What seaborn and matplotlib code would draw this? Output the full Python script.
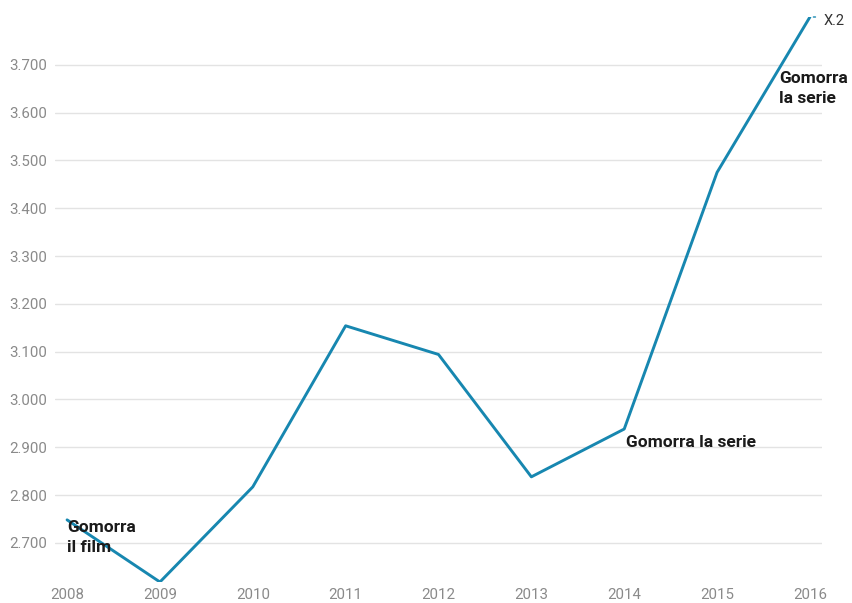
import matplotlib
matplotlib.use("Agg")
import matplotlib.pyplot as plt
import seaborn as sns
import pandas as pd
from matplotlib.ticker import FuncFormatter

years = [2008, 2009, 2010, 2011, 2012, 2013, 2014, 2015, 2016]
values = [2748, 2618, 2817, 3154, 3094, 2838, 2938, 3475, 3800]
series_name = "X.2"
y_ticks = [2700, 2800, 2900, 3000, 3100, 3200, 3300, 3400, 3500, 3600, 3700]

notes = [
    (2008, 2748, "Gomorra\nil film"),
    (2014, 2938, "Gomorra la serie"),
    (2016, 3800, "Gomorra\nla serie"),
]

df = pd.DataFrame({"anno": years, "valore": values})

sns.set_theme(style="white")
plt.rcParams["font.family"] = ["Roboto", "DejaVu Sans"]

fig = plt.figure(figsize=(8.52, 6.03), dpi=100)
ax = fig.add_axes([55 / 852, 21 / 603, 767 / 852, 565 / 603])

line_color = "#1787b0"
sns.lineplot(data=df, x="anno", y="valore", ax=ax, color=line_color, linewidth=2.1)

ax.set_xlim(2007.87, 2016.13)
ax.set_ylim(2618, 3800)
ax.set_xticks(years)
ax.set_xticklabels([str(y) for y in years])
ax.set_yticks(y_ticks)
ax.yaxis.set_major_formatter(FuncFormatter(lambda v, p: f"{int(v):,}".replace(",", ".")))
ax.grid(axis="y", color="#e3e3e3", linewidth=1.0)
ax.grid(axis="x", visible=False)
ax.set_axisbelow(True)
for s in ax.spines.values():
    s.set_visible(False)
ax.tick_params(axis="both", length=0, labelsize=10.8, labelcolor="#8a8a8a")
ax.tick_params(axis="y", pad=6)
ax.tick_params(axis="x", pad=4)
ax.set_xlabel("")
ax.set_ylabel("")

note_style = dict(textcoords="offset points", ha="left", va="top",
                  fontsize=12.5, fontweight="bold", color="#1a1a1a", linespacing=1.4)

ax.annotate(notes[0][2], xy=(notes[0][0], notes[0][1]), xytext=(0, 0), **note_style)
ax.annotate(notes[1][2], xy=(notes[1][0], notes[1][1]), xytext=(1, -4), **note_style)
ax.annotate(notes[2][2], xy=(notes[2][0], notes[2][1]), xytext=(-22, -39), **note_style)

# Series label at the end of the line
ax.annotate("", xy=(years[-1], values[-1]), xytext=(6, 0), textcoords="offset points",
            arrowprops=dict(arrowstyle="-", color=line_color, linestyle=(0, (1.5, 1.5)), linewidth=1.0),
            annotation_clip=False)
ax.annotate(series_name, xy=(years[-1], values[-1]), xytext=(10, -3),
            textcoords="offset points", ha="left", va="center",
            fontsize=10.5, color="#333333", annotation_clip=False)

fig.savefig("out.png", dpi=100)
